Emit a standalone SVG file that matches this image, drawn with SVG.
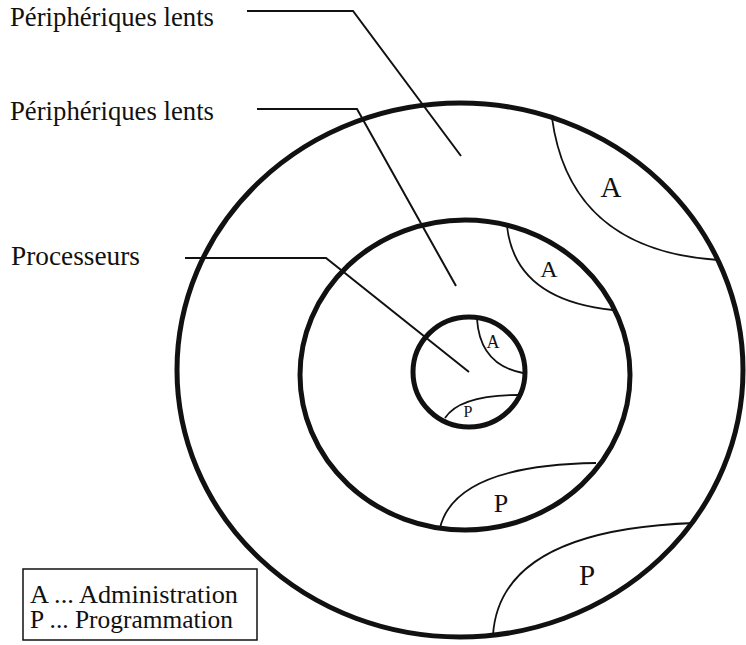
<svg xmlns="http://www.w3.org/2000/svg" width="746" height="645" viewBox="0 0 746 645">
<style>
.ring{fill:none;stroke:#111;stroke-width:5}
.arc{fill:none;stroke:#111;stroke-width:1.8}
.lead{fill:none;stroke:#111;stroke-width:2}
text{font-family:'Liberation Serif','DejaVu Serif','Times New Roman',serif;fill:#111}
</style>
<rect width="746" height="645" fill="#fff"/>
<g id="outer-ring">
<ellipse class="ring" cx="460" cy="370" rx="283" ry="267"/>
<path class="arc" d="M552,118 Q570,250 718,260"/>
<text x="611" y="197" font-size="29" text-anchor="middle">A</text>
<path class="arc" d="M493,635 Q500,530 694,523"/>
<text x="587" y="585" font-size="29" text-anchor="middle">P</text>
</g>
<g id="middle-ring">
<ellipse class="ring" cx="465" cy="375" rx="165" ry="155"/>
<path class="arc" d="M507,226 Q515,300 613,310"/>
<text x="549" y="277" font-size="24" text-anchor="middle">A</text>
<path class="arc" d="M440,528 Q455,465 596,463"/>
<text x="501" y="512" font-size="26" text-anchor="middle">P</text>
</g>
<g id="inner-ring">
<ellipse class="ring" cx="469" cy="372" rx="56" ry="55"/>
<path class="arc" d="M477,319 Q480,365 523,373"/>
<text x="493" y="348" font-size="18" text-anchor="middle">A</text>
<path class="arc" d="M445,418 Q460,395 519,395"/>
<text x="468" y="417" font-size="16" text-anchor="middle">P</text>
</g>
<g id="label-peripheriques-1">
<text x="10" y="26" font-size="27" textLength="204" lengthAdjust="spacingAndGlyphs">Périphériques lents</text>
</g>
<g id="label-peripheriques-2">
<text x="10" y="120" font-size="27" textLength="204" lengthAdjust="spacingAndGlyphs">Périphériques lents</text>
</g>
<g id="label-processeurs">
<text x="11" y="265" font-size="27" textLength="129" lengthAdjust="spacingAndGlyphs">Processeurs</text>
</g>
<g id="connectors">
<polyline class="lead" points="247,11 353,11 461,156"/>
<polyline class="lead" points="257,109 357,109 456,286"/>
<polyline class="lead" points="185,258 326,258 469,372"/>
</g>
<g id="legend">
<rect x="23" y="569" width="234" height="71" fill="none" stroke="#111" stroke-width="1.5"/>
<text x="30" y="603" font-size="25" textLength="208" lengthAdjust="spacingAndGlyphs">A ... Administration</text>
<text x="30" y="628" font-size="25" textLength="203" lengthAdjust="spacingAndGlyphs">P ... Programmation</text>
</g>
</svg>
